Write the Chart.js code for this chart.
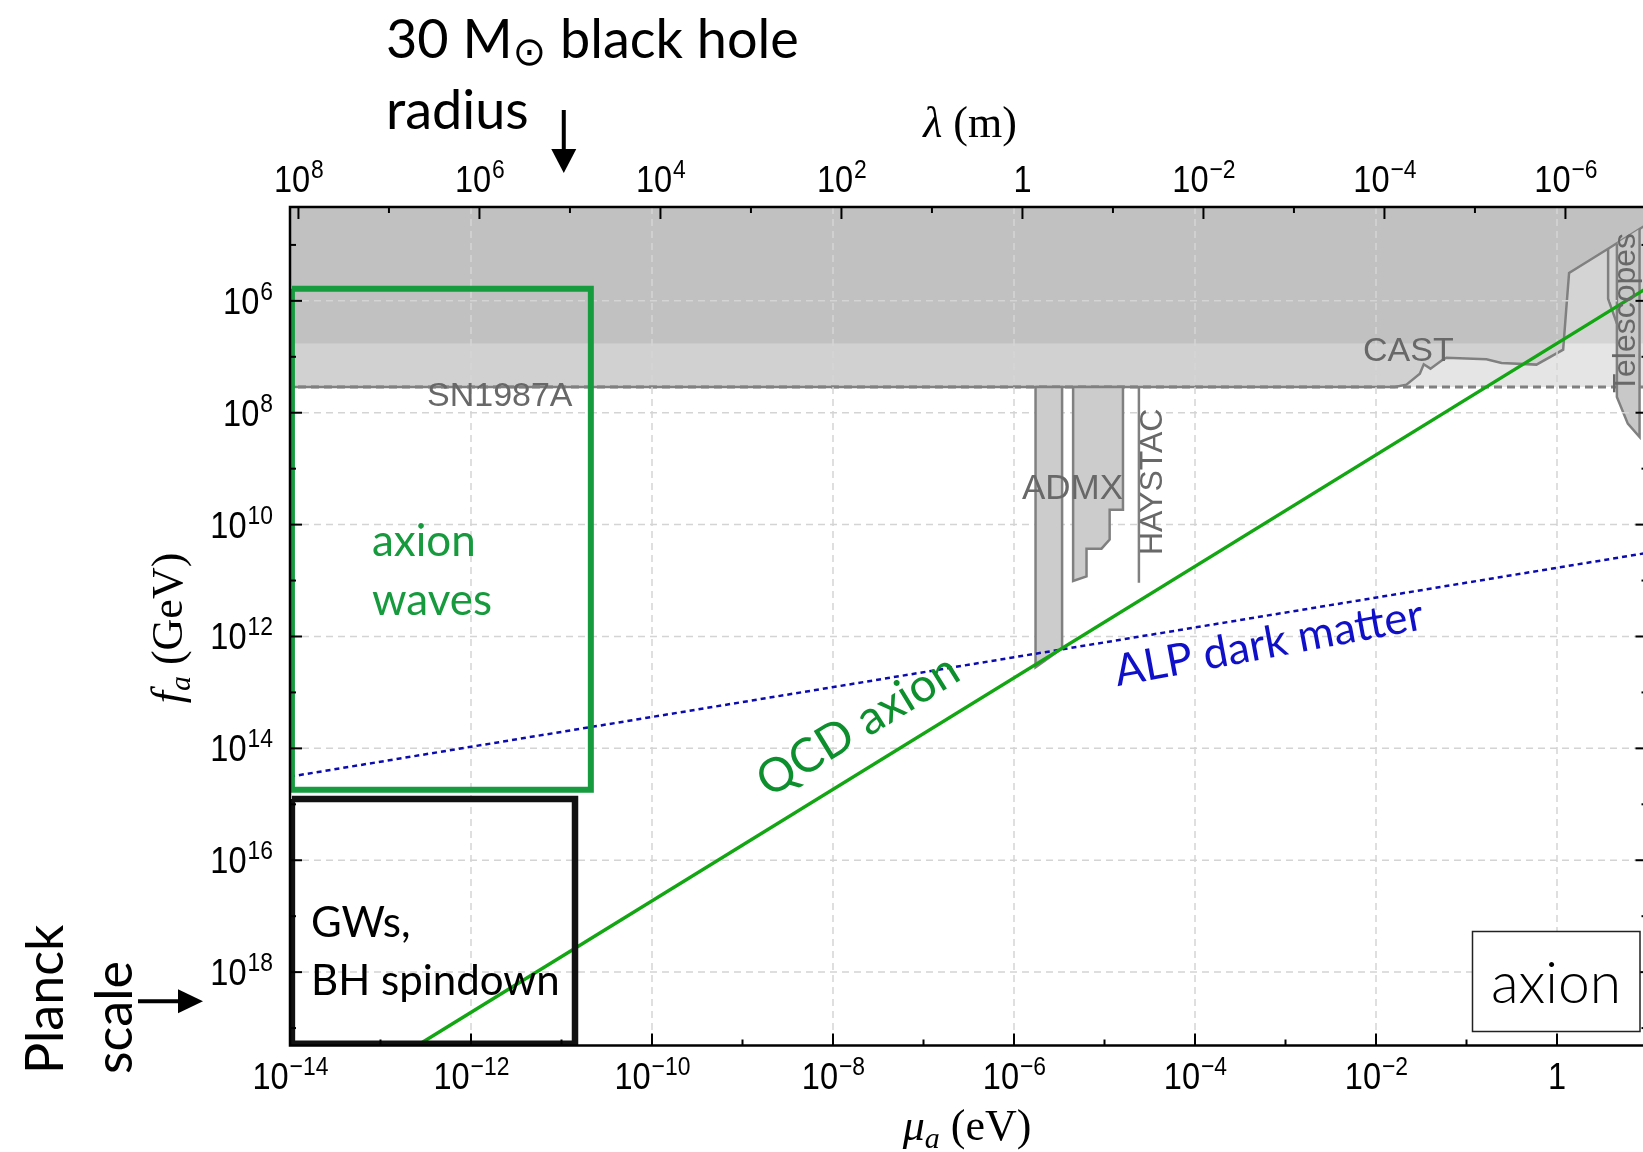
<!DOCTYPE html>
<html>
<head>
<meta charset="utf-8">
<title>axion parameter space</title>
<script src="https://cdn.jsdelivr.net/npm/chart.js@4.4.1/dist/chart.umd.min.js"></script>
<style>
  html, body { margin: 0; padding: 0; overflow: hidden; background: #fff; }
  canvas { display: block; }
</style>
</head>
<body>
<canvas id="axionPlot" width="1660" height="1152"></canvas>
<script>
var HC = 1.2398e-6; // eV*m, mass -> wavelength for the top axis

// frame ranges
var massRange = [1e-14, 10];      // mu_a in eV
var faRange = [2.1e4, 2.05e19];   // f_a in GeV

// labelled tick exponents (unlabelled decades sit in between)
var massTickExp = [-14, -12, -10, -8, -6, -4, -2, 0];
var lambdaTickExp = [8, 6, 4, 2, 0, -2, -4, -6];
var faTickExp = [6, 8, 10, 12, 14, 16, 18];

// QCD axion line and ALP dark matter line
var qcdMass = [1e-13, 10];
var qcdFa = [5.2e19, 5.8e5];
var alpMass = [1e-14, 10];
var alpFa = [3.2e14, 3.2e10];

// SN1987A bound and the darker band on top
var snMass = [1e-16, 100, 100, 1e-16];
var snFa = [1e3, 1e3, 3.47e7, 3.47e7];
var bandMass = [1e-16, 100, 100, 1e-16];
var bandFa = [1e3, 1e3, 5.8e6, 5.8e6];

// CAST
var castMass = [1e-16, 1.61e-2, 2.17e-2, 3.05e-2, 3.37e-2, 4.0e-2, 5.5e-2, 6.0e-2, 0.166, 0.244, 0.593, 1.17, 1.27, 1.36, 3.67, 12, 12, 1e-16];
var castFa = [3.47e7, 3.47e7, 3.15e7, 2.0e7, 1.36e7, 1.63e7, 1.12e7, 1.04e7, 1.11e7, 1.29e7, 1.38e7, 7.45e6, 1.29e6, 3.18e5, 1.17e5, 3.5e4, 1e3, 1e3];

// telescopes
var telMass = [4.59, 4.59, 6.06, 8.17, 8.17];
var telFa = [9.3e4, 5.24e7, 1.57e8, 2.72e8, 5.2e4];
var telStepMass = [3.67, 3.67, 4.59];
var telStepFa = [1.17e5, 9.14e5, 2.55e6];

// haloscopes
var admx1Mass = [1.73e-6, 3.40e-6, 3.40e-6, 1.73e-6, 1.73e-6];
var admx1Fa = [3.47e7, 3.47e7, 1.63e12, 3.55e12, 3.47e7];
var admx2Mass = [4.50e-6, 1.60e-5, 1.60e-5, 1.14e-5, 1.14e-5, 9.27e-6, 6.33e-6, 6.33e-6, 4.50e-6, 4.50e-6];
var admx2Fa = [3.47e7, 3.47e7, 5.4e9, 5.4e9, 1.85e10, 2.69e10, 2.69e10, 8.4e10, 1.02e11, 3.47e7];
var haystacMass = [2.4e-5, 2.4e-5];
var haystacFa = [3.47e7, 1.1e11];

// boxes: axion waves, GWs / BH spindown
var wavesBoxMass = [1.05e-14, 2.11e-11, 2.11e-11, 1.05e-14, 1.05e-14];
var wavesBoxFa = [6.1e5, 6.1e5, 5.5e14, 5.5e14, 6.1e5];
var gwBoxMass = [1.05e-14, 1.41e-11, 1.41e-11, 1.05e-14, 1.05e-14];
var gwBoxFa = [8.0e14, 8.0e14, 1.9e19, 1.9e19, 8.0e14];

// arrows
var bhRadiusLambda = 1.17e5; // m
var planckFa = 3.3e18;       // GeV

function pts(xs, ys) {
    return xs.map(function(x, i) { return {x: x, y: ys[i]}; });
}

var gray = '#808080';
var sans = '"Liberation Sans", Arial, sans-serif';
var serif = '"Liberation Serif", "Times New Roman", serif';
var gill = 'Lato, "Open Sans", sans-serif';
var SQ = 0.88; // narrow tick labels

function drawPow(ctx, e, x, y, align) {
    var base = e === 0 ? '1' : '10';
    var sup = e === 0 ? '' : (e < 0 ? '\u2212' + (-e) : '' + e);
    ctx.font = '37px ' + sans;
    var wb = ctx.measureText(base).width * SQ;
    ctx.font = '26px ' + sans;
    var ws = sup ? ctx.measureText(sup).width * SQ : 0;
    var left = align === 'right' ? x - wb - ws : x - (wb + ws) / 2;
    ctx.save();
    ctx.translate(left, y);
    ctx.scale(SQ, 1);
    ctx.textAlign = 'left';
    ctx.font = '37px ' + sans;
    ctx.fillText(base, 0, 0);
    if (sup) {
        ctx.font = '26px ' + sans;
        ctx.fillText(sup, wb / SQ + 1, -14);
    }
    ctx.restore();
}

function richText(ctx, parts, x, y, align) {
    var w = 0;
    parts.forEach(function(p) { ctx.font = p.font; p.w = ctx.measureText(p.text).width; w += p.w; });
    var cx = align === 'center' ? x - w / 2 : x;
    ctx.textAlign = 'left';
    parts.forEach(function(p) { ctx.font = p.font; ctx.fillText(p.text, cx, y + (p.dy || 0)); cx += p.w; });
}

function seg(ctx, x1, y1, x2, y2) {
    ctx.beginPath(); ctx.moveTo(x1, y1); ctx.lineTo(x2, y2); ctx.stroke();
}

function drawGrid(chart) {
    var ctx = chart.ctx, a = chart.chartArea, sx = chart.scales.x, sy = chart.scales.y;
    ctx.save();
    ctx.beginPath();
    ctx.rect(a.left, a.top, a.right - a.left, a.bottom - a.top);
    ctx.clip();
    ctx.strokeStyle = '#d4d4d4';
    ctx.lineWidth = 1.5;
    ctx.setLineDash([7, 5]);
    massTickExp.forEach(function(e) {
        var x = sx.getPixelForValue(Math.pow(10, e));
        seg(ctx, x, a.top, x, a.bottom);
    });
    faTickExp.forEach(function(e) {
        var y = sy.getPixelForValue(Math.pow(10, e));
        seg(ctx, a.left, y, a.right, y);
    });
    ctx.restore();
}

function drawDecorations(chart) {
    var ctx = chart.ctx, a = chart.chartArea;
    var sx = chart.scales.x, sx2 = chart.scales.x2, sy = chart.scales.y;
    var e, x, y, len;
    ctx.save();

    // frame and inward ticks
    ctx.strokeStyle = '#000';
    ctx.lineWidth = 2.5;
    ctx.strokeRect(a.left, a.top, a.right - a.left, a.bottom - a.top);
    ctx.lineWidth = 2;
    for (e = -14; e <= 1; e++) {
        x = sx.getPixelForValue(Math.pow(10, e));
        len = e % 2 === 0 ? 12 : 6;
        seg(ctx, x, a.bottom, x, a.bottom - len);
    }
    for (e = 8; e >= -6; e--) {
        x = sx2.getPixelForValue(Math.pow(10, e));
        len = e % 2 === 0 ? 12 : 6;
        seg(ctx, x, a.top, x, a.top + len);
    }
    for (e = 5; e <= 19; e++) {
        y = sy.getPixelForValue(Math.pow(10, e));
        len = e % 2 === 0 ? 12 : 6;
        seg(ctx, a.left, y, a.left + len, y);
        seg(ctx, a.right, y, a.right - len, y);
    }

    // tick labels
    ctx.fillStyle = '#000';
    ctx.textBaseline = 'alphabetic';
    massTickExp.forEach(function(e) {
        drawPow(ctx, e, sx.getPixelForValue(Math.pow(10, e)), a.bottom + 43, 'center');
    });
    lambdaTickExp.forEach(function(e) {
        drawPow(ctx, e, sx2.getPixelForValue(Math.pow(10, e)), a.top - 15, 'center');
    });
    faTickExp.forEach(function(e) {
        drawPow(ctx, e, a.left - 18, sy.getPixelForValue(Math.pow(10, e)) + 13, 'right');
    });

    // axis titles
    richText(ctx, [
        {text: '\u03bb', font: 'italic 44px ' + serif},
        {text: ' (m)', font: '44px ' + serif}
    ], 970, 137, 'center');
    richText(ctx, [
        {text: '\u03bc', font: 'italic 44px ' + serif},
        {text: 'a', font: 'italic 30px ' + serif, dy: 8},
        {text: ' (eV)', font: '44px ' + serif}
    ], 967, 1140, 'center');
    ctx.save();
    ctx.translate(182, 628);
    ctx.rotate(-Math.PI / 2);
    richText(ctx, [
        {text: 'f', font: 'italic 44px ' + serif},
        {text: 'a', font: 'italic 30px ' + serif, dy: 8},
        {text: ' (GeV)', font: '44px ' + serif}
    ], 0, 0, 'center');
    ctx.restore();

    // experiment labels
    ctx.fillStyle = '#686868';
    ctx.textAlign = 'left';
    ctx.font = '34px ' + sans;
    ctx.fillText('SN1987A', 427, 406);
    ctx.font = '35px ' + sans;
    ctx.fillText('ADMX', 1022, 499);
    ctx.font = '34px ' + sans;
    ctx.fillText('CAST', 1363, 361);
    ctx.font = '32px ' + sans;
    ctx.save(); ctx.translate(1162, 555); ctx.rotate(-Math.PI / 2); ctx.fillText('HAYSTAC', 0, 0); ctx.restore();
    ctx.save(); ctx.translate(1635, 393); ctx.rotate(-Math.PI / 2); ctx.fillText('Telescopes', 0, 0); ctx.restore();

    // region labels
    ctx.fillStyle = '#179a3e';
    ctx.font = '44px ' + gill;
    ctx.fillText('axion', 372, 556);
    ctx.fillText('waves', 372, 615);
    ctx.fillStyle = '#000';
    ctx.font = '42px ' + gill;
    ctx.fillText('GWs,', 311, 937);
    ctx.fillText('BH spindown', 311, 995);

    // line labels
    var qx1 = sx.getPixelForValue(qcdMass[0]), qy1 = sy.getPixelForValue(qcdFa[0]);
    var qx2 = sx.getPixelForValue(qcdMass[1]), qy2 = sy.getPixelForValue(qcdFa[1]);
    ctx.save();
    ctx.translate(866, 738.5);
    ctx.rotate(Math.atan2(qy2 - qy1, qx2 - qx1));
    ctx.textAlign = 'center';
    ctx.fillStyle = '#0e8f2e';
    ctx.font = '47px ' + gill;
    ctx.fillText('QCD axion', 0, 0);
    ctx.restore();
    ctx.save();
    ctx.translate(1271.5, 657.5);
    ctx.rotate(-10.6 * Math.PI / 180);
    ctx.textAlign = 'center';
    ctx.fillStyle = '#1010c8';
    ctx.font = '44px ' + gill;
    ctx.fillText('ALP dark matter', 0, 0);
    ctx.restore();

    // black hole radius note with arrow
    ctx.fillStyle = '#000';
    ctx.textAlign = 'left';
    richText(ctx, [
        {text: '30 M', font: '54px ' + gill},
        {text: '\u2299', font: '40px "DejaVu Sans", sans-serif', dy: 7},
        {text: ' black hole', font: '54px ' + gill}
    ], 386, 58, 'left');
    ctx.font = '54px ' + gill;
    ctx.fillText('radius', 386, 129);
    x = sx2.getPixelForValue(bhRadiusLambda);
    ctx.lineWidth = 4;
    seg(ctx, x, 110, x, 152);
    ctx.beginPath(); ctx.moveTo(x - 12.5, 149); ctx.lineTo(x + 12.5, 149); ctx.lineTo(x, 173); ctx.closePath(); ctx.fill();

    // Planck scale note with arrow
    ctx.font = '52px ' + gill;
    ctx.save(); ctx.translate(63, 1074); ctx.rotate(-Math.PI / 2); ctx.fillText('Planck', 0, 0); ctx.restore();
    ctx.save(); ctx.translate(132, 1074); ctx.rotate(-Math.PI / 2); ctx.fillText('scale', 0, 0); ctx.restore();
    y = sy.getPixelForValue(planckFa);
    seg(ctx, 138, y, 181, y);
    ctx.beginPath(); ctx.moveTo(178, y - 12); ctx.lineTo(178, y + 12); ctx.lineTo(203, y); ctx.closePath(); ctx.fill();

    // "axion" tag box
    ctx.fillStyle = '#fff';
    ctx.fillRect(1472.5, 931.5, 167.5, 100);
    ctx.strokeStyle = '#222';
    ctx.lineWidth = 1.5;
    ctx.strokeRect(1472.5, 931.5, 167.5, 100);
    ctx.fillStyle = '#000';
    ctx.textAlign = 'center';
    ctx.font = '300 57px ' + gill;
    ctx.fillText('axion', 1556, 1003);

    ctx.restore();
}

var decorations = {
    id: 'decorations',
    afterDatasetDraw: function(chart, args) {
        if (chart.data.datasets[args.index].gridAfter) {
            drawGrid(chart);
        }
    },
    afterDraw: function(chart) {
        drawDecorations(chart);
    }
};

var datasets = [
    {data: pts(snMass, snFa), fill: 'shape', backgroundColor: 'rgba(0,0,0,0.10)', borderColor: gray, borderWidth: 3, borderDash: [8, 5], order: 20},
    {data: pts(bandMass, bandFa), fill: 'shape', backgroundColor: 'rgba(0,0,0,0.075)', borderColor: 'rgba(0,0,0,0)', borderWidth: 0, order: 19},
    {data: pts(castMass, castFa), fill: 'shape', backgroundColor: 'rgba(0,0,0,0.09)', borderColor: gray, borderWidth: 2.5, order: 18},
    {data: pts(telMass, telFa), fill: 'shape', backgroundColor: '#c8c8c8', borderColor: gray, borderWidth: 2.5, order: 17},
    {data: pts(telStepMass, telStepFa), fill: false, borderColor: gray, borderWidth: 2.5, order: 16, gridAfter: true},
    {data: pts(admx1Mass, admx1Fa), fill: 'shape', backgroundColor: '#cccccc', borderColor: gray, borderWidth: 2.5, order: 15},
    {data: pts(admx2Mass, admx2Fa), fill: 'shape', backgroundColor: '#cccccc', borderColor: gray, borderWidth: 2.5, order: 14},
    {data: pts(haystacMass, haystacFa), fill: false, borderColor: gray, borderWidth: 2.5, order: 13},
    {data: pts(alpMass, alpFa), fill: false, borderColor: '#0b0bb0', borderWidth: 2.5, borderDash: [5, 4], order: 4},
    {data: pts(qcdMass, qcdFa), fill: false, borderColor: '#12a612', borderWidth: 3.5, order: 3},
    {data: pts(wavesBoxMass, wavesBoxFa), fill: false, borderColor: '#169b3e', borderWidth: 6, borderJoinStyle: 'miter', order: 2},
    {data: pts(gwBoxMass, gwBoxFa), fill: false, borderColor: '#111111', borderWidth: 6.5, borderJoinStyle: 'miter', order: 1}
];

var axionChart = new Chart(document.getElementById('axionPlot'), {
    type: 'line',
    data: { datasets: datasets },
    options: {
        responsive: false,
        animation: false,
        events: [],
        layout: { padding: { right: 12.5 } },
        elements: { point: { radius: 0 }, line: { tension: 0 } },
        plugins: { legend: { display: false }, tooltip: { enabled: false } },
        scales: {
            x: {
                type: 'logarithmic', position: 'bottom', bounds: 'data',
                min: massRange[0], max: massRange[1],
                ticks: { display: false }, grid: { display: false }, border: { display: false },
                afterFit: function(s) { s.height = 106.5; }
            },
            x2: {
                type: 'logarithmic', position: 'top', bounds: 'data', reverse: true,
                min: HC / massRange[1], max: HC / massRange[0],
                ticks: { display: false }, grid: { display: false }, border: { display: false },
                afterFit: function(s) { s.height = 207; }
            },
            y: {
                type: 'logarithmic', position: 'left', bounds: 'data', reverse: true,
                min: faRange[0], max: faRange[1],
                ticks: { display: false }, grid: { display: false }, border: { display: false },
                afterFit: function(s) { s.width = 290; }
            }
        }
    },
    plugins: [decorations]
});
</script>
</body>
</html>
